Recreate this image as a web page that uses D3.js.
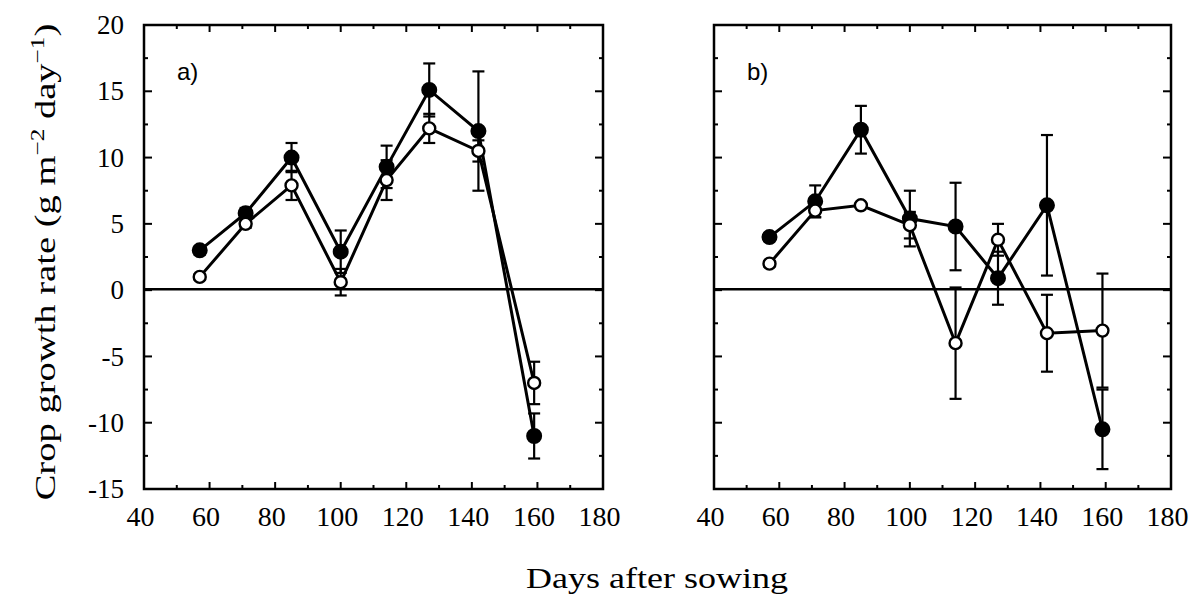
<!DOCTYPE html>
<html><head><meta charset="utf-8">
<script src="https://cdn.jsdelivr.net/npm/d3@7"></script>
<style>body{margin:0;background:#fff;} svg{display:block;}</style>
</head><body>
<svg id="chart" width="1195" height="603"></svg>
<script>
const days = [57, 71, 85, 100, 114, 127, 142, 159];
const aFilled = [3.0, 5.8, 10.0, 2.9, 9.3, 15.1, 12.0, -11.0];
const aFilledErr = [0.3, 0.4, 1.1, 1.6, 1.6, 2.0, 4.5, 1.7];
const aOpen = [1.0, 5.0, 7.9, 0.6, 8.3, 12.2, 10.5, -7.0];
const aOpenErr = [0.2, 0.3, 1.1, 1.0, 1.5, 1.1, 0.8, 1.6];
const bFilled = [4.0, 6.7, 12.1, 5.4, 4.8, 0.9, 6.4, -10.5];
const bFilledErr = [0.2, 1.2, 1.8, 2.1, 3.3, 2.0, 5.3, 3.0];
const bOpen = [2.0, 6.0, 6.4, 4.9, -4.0, 3.8, -3.25, -3.05];
const bOpenErr = [0.2, 0.5, 0.2, 1.0, 4.2, 1.2, 2.9, 4.3];
const xTicks = [40, 60, 80, 100, 120, 140, 160, 180];
const yTicks = [-15, -10, -5, 0, 5, 10, 15, 20];
const panelNames = ["a)", "b)"];
const yLabelText = "Crop growth rate (g m";
const xLabelText = "Days after sowing";

const svg = d3.select("#chart");
const plotTop = 25, plotBottom = 489;
const panels = [
  {left: 144, right: 603, filled: aFilled, fErr: aFilledErr, open: aOpen, oErr: aOpenErr, name: panelNames[0], labels: true},
  {left: 714, right: 1171, filled: bFilled, fErr: bFilledErr, open: bOpen, oErr: bOpenErr, name: panelNames[1], labels: false}
];
const y = d3.scaleLinear().domain([-15, 20]).range([plotBottom, plotTop]);
const serif = "'Liberation Serif', 'Times New Roman', serif";

panels.forEach(p => {
  const x = d3.scaleLinear().domain([40, 180]).range([p.left, p.right]);
  const g = svg.append("g");
  const minorX = d3.range(50, 180, 20);
  const minorY = d3.range(-12.5, 20, 5);

  const tickG = g.append("g").attr("stroke", "#000").attr("stroke-width", 2);
  xTicks.slice(1, -1).forEach(v => {
    tickG.append("line").attr("x1", x(v)).attr("x2", x(v)).attr("y1", plotBottom).attr("y2", plotBottom - 7);
    tickG.append("line").attr("x1", x(v)).attr("x2", x(v)).attr("y1", plotTop).attr("y2", plotTop + 7);
  });
  minorX.forEach(v => {
    tickG.append("line").attr("x1", x(v)).attr("x2", x(v)).attr("y1", plotBottom).attr("y2", plotBottom - 4);
    tickG.append("line").attr("x1", x(v)).attr("x2", x(v)).attr("y1", plotTop).attr("y2", plotTop + 4);
  });
  yTicks.slice(1, -1).forEach(v => {
    tickG.append("line").attr("y1", y(v)).attr("y2", y(v)).attr("x1", p.left).attr("x2", p.left + 8);
    tickG.append("line").attr("y1", y(v)).attr("y2", y(v)).attr("x1", p.right).attr("x2", p.right - 8);
  });
  minorY.forEach(v => {
    tickG.append("line").attr("y1", y(v)).attr("y2", y(v)).attr("x1", p.left).attr("x2", p.left + 4);
    tickG.append("line").attr("y1", y(v)).attr("y2", y(v)).attr("x1", p.right).attr("x2", p.right - 4);
  });

  const xa = d3.axisBottom(x).tickValues(xTicks).tickFormat(d => String(d)).tickSize(0).tickPadding(17);
  const xg = g.append("g").attr("transform", `translate(0,${plotBottom})`).call(xa);
  xg.select(".domain").remove();
  xg.selectAll("text").attr("font-family", serif).attr("font-size", 28).attr("fill", "#000").attr("dx", -4);

  if (p.labels) {
    const ya = d3.axisLeft(y).tickValues(yTicks).tickFormat(d => String(d)).tickSize(0).tickPadding(20);
    const yg = g.append("g").attr("transform", `translate(${p.left},0)`).call(ya);
    yg.select(".domain").remove();
    yg.selectAll("text").attr("font-family", serif).attr("font-size", 27).attr("fill", "#000");
  }

  g.append("line").attr("x1", p.left).attr("x2", p.right).attr("y1", y(0) - 1).attr("y2", y(0) - 1)
    .attr("stroke", "#000").attr("stroke-width", 2.5);

  g.append("rect").attr("x", p.left).attr("y", plotTop).attr("width", p.right - p.left).attr("height", plotBottom - plotTop)
    .attr("fill", "none").attr("stroke", "#000").attr("stroke-width", 2.5);

  g.append("text").attr("x", p.left + 33).attr("y", 80).text(p.name)
    .attr("font-family", "'Liberation Sans', Arial, sans-serif").attr("font-size", 24).attr("fill", "#000");

  const line = d3.line().x((d, i) => x(days[i])).y(d => y(d));
  const series = [
    {vals: p.filled, err: p.fErr, fill: "#000"},
    {vals: p.open, err: p.oErr, fill: "#fff"}
  ];
  series.forEach(s => {
    const eg = g.append("g").attr("stroke", "#000").attr("stroke-width", 2.2);
    s.vals.forEach((v, i) => {
      const cx = x(days[i]);
      const y1 = y(v + s.err[i]), y2 = y(v - s.err[i]);
      eg.append("line").attr("x1", cx).attr("x2", cx).attr("y1", y1).attr("y2", y2);
      eg.append("line").attr("x1", cx - 6).attr("x2", cx + 6).attr("y1", y1).attr("y2", y1);
      eg.append("line").attr("x1", cx - 6).attr("x2", cx + 6).attr("y1", y2).attr("y2", y2);
    });
  });
  series.forEach(s => {
    g.append("path").datum(s.vals).attr("d", line).attr("fill", "none")
      .attr("stroke", "#000").attr("stroke-width", 3);
  });
  series.forEach(s => {
    g.append("g").selectAll("circle").data(s.vals).join("circle")
      .attr("cx", (d, i) => x(days[i])).attr("cy", d => y(d))
      .attr("r", s.fill === "#000" ? 6.8 : 6)
      .attr("fill", s.fill).attr("stroke", "#000").attr("stroke-width", 2.4);
  });
});

const yl = svg.append("text").attr("transform", "translate(55,262) rotate(-90) scale(1.33,1)")
  .attr("text-anchor", "middle").attr("font-family", serif).attr("font-size", 29).attr("fill", "#000");
yl.append("tspan").text(yLabelText);
yl.append("tspan").attr("dy", -11).attr("font-size", 19).text("−2");
yl.append("tspan").attr("dy", 11).text(" day");
yl.append("tspan").attr("dy", -11).attr("font-size", 19).text("−1");
yl.append("tspan").attr("dy", 11).text(")");

svg.append("text").attr("transform", "translate(657,588) scale(1.2,1)").attr("text-anchor", "middle")
  .attr("font-family", serif).attr("font-size", 30).attr("fill", "#000").text(xLabelText);
</script>
</body></html>
